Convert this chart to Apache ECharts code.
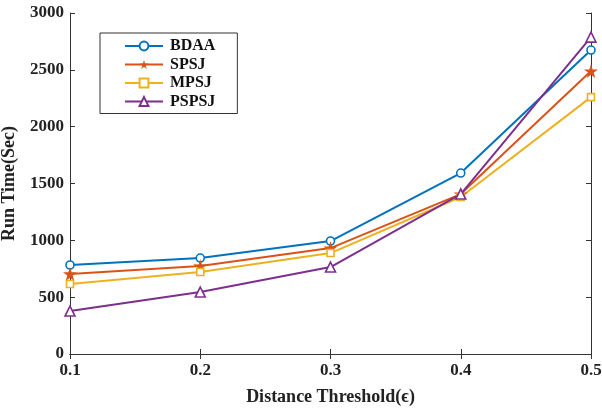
<!DOCTYPE html>
<html>
<head>
<meta charset="utf-8">
<script src="https://cdn.jsdelivr.net/npm/echarts@6/dist/echarts.min.js"></script>
<style>
  html, body { margin: 0; padding: 0; background: #fff; }
  #chart { width: 602px; height: 409px; }
</style>
</head>
<body>
<div id="chart"></div>
<script>
// data
const thresholds = ["0.1", "0.2", "0.3", "0.4", "0.5"];
const bdaa = [783, 844, 994, 1592, 2674];
const spsj = [704, 774, 932, 1407, 2489];
const mpsj = [616, 721, 888, 1381, 2260];
const pspsj = [378, 545, 765, 1407, 2788];

const FONT = "Liberation Serif";
const STAR =
  "path://M100,0 L122.3,69.3 L195.1,69.1 L136.1,111.7 L158.8,180.9 L100,138 L41.2,180.9 L63.9,111.7 L4.9,69.1 L77.7,69.3 Z";

function makeSeries(name, data, color, symbol, size, hollow) {
  return {
    name,
    type: "line",
    data,
    symbol,
    symbolSize: size,
    showAllSymbol: true,
    lineStyle: { color, width: 2 },
    itemStyle: hollow
      ? { color: "#fff", borderColor: color, borderWidth: 1.6 }
      : { color, borderColor: color, borderWidth: 0 },
    emphasis: { disabled: true },
    z: 3,
  };
}

const chart = echarts.init(document.getElementById("chart"), null, {
  renderer: "canvas",
});

const tickLabel = {
  fontFamily: FONT,
  fontWeight: "bold",
  fontSize: 17,
  color: "#222",
};

chart.setOption({
  animation: false,
  backgroundColor: "#fff",
  grid: { left: 70, right: 11, top: 13, bottom: 55, outerBoundsMode: "none", containLabel: false },
  legend: {
    orient: "vertical",
    left: 100,
    top: 33,
    padding: [5, 22, 4, 24],
    itemGap: 2.5,
    itemWidth: 38,
    itemHeight: 11,
    borderColor: "#333",
    borderWidth: 1,
    backgroundColor: "#fff",
    textStyle: {
      fontFamily: FONT,
      fontWeight: "bold",
      fontSize: 16,
      color: "#111",
      padding: [0, 0, 0, 2],
    },
    data: ["BDAA", "SPSJ", "MPSJ", "PSPSJ"],
  },
  xAxis: [
    {
      type: "category",
      data: thresholds,
      boundaryGap: false,
      name: "Distance Threshold(\u03f5)",
      nameLocation: "middle",
      nameGap: 34,
      nameTextStyle: {
        fontFamily: FONT,
        fontWeight: "bold",
        fontSize: 18,
        color: "#222",
      },
      axisLine: { lineStyle: { color: "#333", width: 1 } },
      axisTick: { inside: true, length: 5, lineStyle: { color: "#333" } },
      axisLabel: Object.assign({ margin: 8 }, tickLabel),
      splitLine: { show: false },
    },
    {
      type: "category",
      data: thresholds,
      boundaryGap: false,
      position: "top",
      axisLine: { lineStyle: { color: "#333", width: 1 } },
      axisTick: { inside: true, length: 5, lineStyle: { color: "#333" } },
      axisLabel: { show: false },
      splitLine: { show: false },
    },
  ],
  yAxis: [
    {
      type: "value",
      min: 0,
      max: 3000,
      interval: 500,
      name: "Run Time(Sec)",
      nameLocation: "middle",
      nameGap: 52,
      nameTextStyle: {
        fontFamily: FONT,
        fontWeight: "bold",
        fontSize: 18,
        color: "#222",
      },
      axisLine: { show: true, lineStyle: { color: "#333", width: 1 } },
      axisTick: { show: true, inside: true, length: 5, lineStyle: { color: "#333" } },
      axisLabel: Object.assign({ margin: 6, formatter: (v) => String(v) }, tickLabel),
      splitLine: { show: false },
    },
    {
      type: "value",
      min: 0,
      max: 3000,
      interval: 500,
      position: "right",
      axisLine: { show: true, lineStyle: { color: "#333", width: 1 } },
      axisTick: { show: true, inside: true, length: 5, lineStyle: { color: "#333" } },
      axisLabel: { show: false },
      splitLine: { show: false },
    },
  ],
  series: [
    makeSeries("BDAA", bdaa, "#0072BD", "circle", 8, true),
    makeSeries("SPSJ", spsj, "#D95319", STAR, 14, false),
    makeSeries("MPSJ", mpsj, "#EDB120", "rect", 7, true),
    makeSeries("PSPSJ", pspsj, "#7E2F8E", "triangle", 10, true),
  ],
});
</script>
</body>
</html>
